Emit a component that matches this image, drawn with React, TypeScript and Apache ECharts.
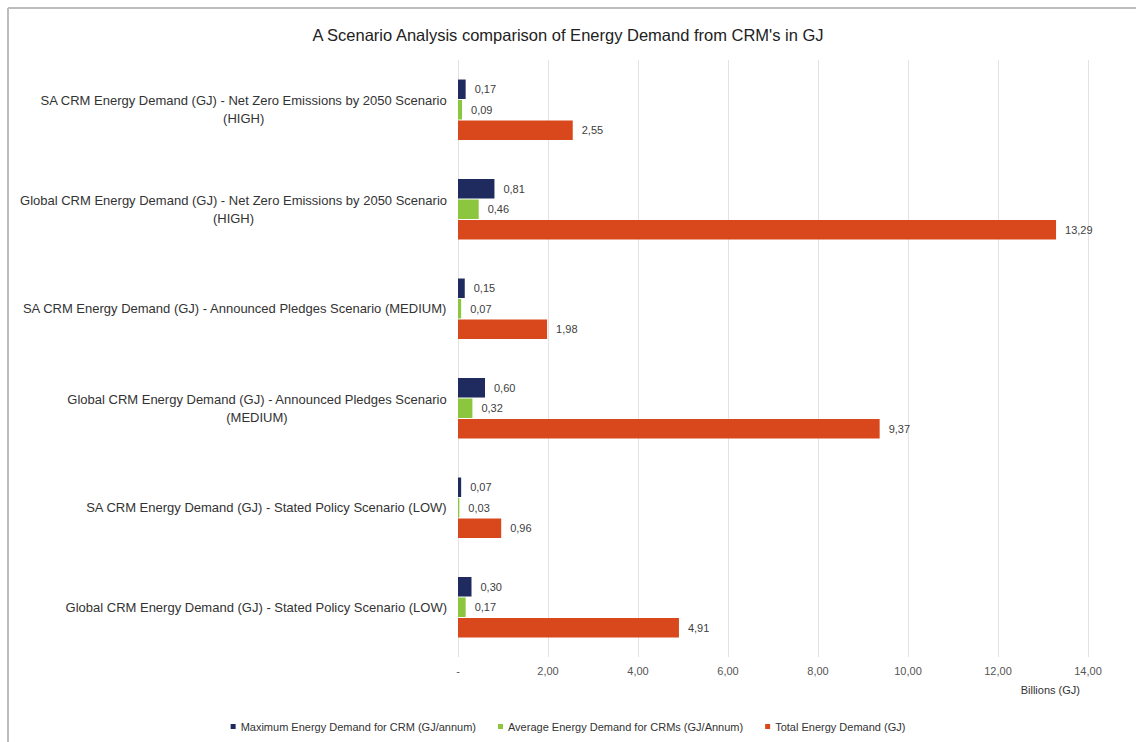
import React, { useEffect, useRef } from "react";
import * as echarts from "echarts";

const categories = [
  "SA CRM Energy Demand (GJ) - Net Zero Emissions by 2050 Scenario\n(HIGH)",
  "Global CRM Energy Demand (GJ) - Net Zero Emissions by 2050 Scenario\n(HIGH)",
  "SA CRM Energy Demand (GJ) - Announced Pledges Scenario (MEDIUM)",
  "Global CRM Energy Demand (GJ) - Announced Pledges Scenario\n(MEDIUM)",
  "SA CRM Energy Demand (GJ) - Stated Policy Scenario (LOW)",
  "Global CRM Energy Demand (GJ) - Stated Policy Scenario (LOW)",
];

const seriesNames = [
  "Maximum Energy Demand for CRM (GJ/annum)",
  "Average Energy Demand for CRMs (GJ/Annum)",
  "Total Energy Demand (GJ)",
];

const maxDemand = [0.17, 0.81, 0.15, 0.6, 0.07, 0.3];
const avgDemand = [0.09, 0.46, 0.07, 0.32, 0.03, 0.17];
const totalDemand = [2.55, 13.29, 1.98, 9.37, 0.96, 4.91];

const seriesColors = ["#1f2a5e", "#8cc63f", "#d9481c"];

const fmt = (v: number) => v.toFixed(2).replace(".", ",");

export default function App() {
  const ref = useRef<HTMLDivElement>(null);

  useEffect(() => {
    if (!ref.current) return;
    const chart = echarts.init(ref.current, null, { renderer: "svg" });
    const font = "'Liberation Sans', Arial, sans-serif";
    const dataSets = [maxDemand, avgDemand, totalDemand];

    chart.setOption({
      animation: false,
      backgroundColor: "#ffffff",
      textStyle: { fontFamily: font },
      title: {
        text: "A Scenario Analysis comparison of Energy Demand from CRM's in GJ",
        left: "center",
        top: 21,
        textStyle: { fontFamily: font, fontSize: 16.5, fontWeight: "normal", color: "#222222" },
      },
      legend: {
        bottom: 5,
        left: "center",
        icon: "rect",
        itemWidth: 5,
        itemHeight: 5,
        itemGap: 22,
        itemTextGap: 3,
        textStyle: { fontFamily: font, fontSize: 11, color: "#333333" },
        data: seriesNames,
      },
      grid: { left: 458, right: 48, top: 60, height: 597, containLabel: false },
      xAxis: {
        type: "value",
        min: 0,
        max: 14,
        interval: 2,
        name: "Billions (GJ)",
        nameLocation: "end",
        nameGap: -8,
        nameTextStyle: {
          fontFamily: font,
          fontSize: 11,
          color: "#333333",
          align: "right",
          verticalAlign: "top",
          padding: [27, 0, 0, 0],
        },
        axisLine: { show: false },
        axisTick: { show: false },
        axisLabel: {
          margin: 8,
          fontSize: 11,
          color: "#555555",
          formatter: (v: number) => (v === 0 ? "-" : fmt(v)),
        },
        splitLine: { show: true, lineStyle: { color: "#e3e3e3", width: 1 } },
      },
      yAxis: {
        type: "category",
        inverse: true,
        data: categories,
        axisLine: { show: false },
        axisTick: { show: false },
        axisLabel: {
          margin: 11,
          formatter: (v: string) =>
            v
              .split("\n")
              .map((l) => `{c|${l}}`)
              .join("\n"),
          rich: {
            c: { align: "center", fontSize: 13, lineHeight: 18, color: "#333333", fontFamily: font },
          },
        },
      },
      graphic: [
        {
          type: "line",
          shape: { x1: 8, y1: 8, x2: 1136, y2: 8 },
          style: { stroke: "#bdbdbd", lineWidth: 2 },
        },
        {
          type: "line",
          shape: { x1: 8, y1: 8, x2: 8, y2: 742 },
          style: { stroke: "#bdbdbd", lineWidth: 2 },
        },
      ],
      series: seriesNames.map((name, i) => ({
        name,
        type: "bar",
        data: dataSets[i],
        barWidth: 19.5,
        barGap: "5%",
        itemStyle: { color: seriesColors[i] },
        label: {
          show: true,
          position: "right",
          distance: 9,
          fontSize: 11,
          color: "#404040",
          fontFamily: font,
          formatter: (p: any) => fmt(p.value),
        },
      })),
    });

    return () => chart.dispose();
  }, []);

  return (
    <div
      ref={ref}
      style={{ position: "fixed", left: 0, top: 0, width: 1136, height: 742 }}
    />
  );
}
